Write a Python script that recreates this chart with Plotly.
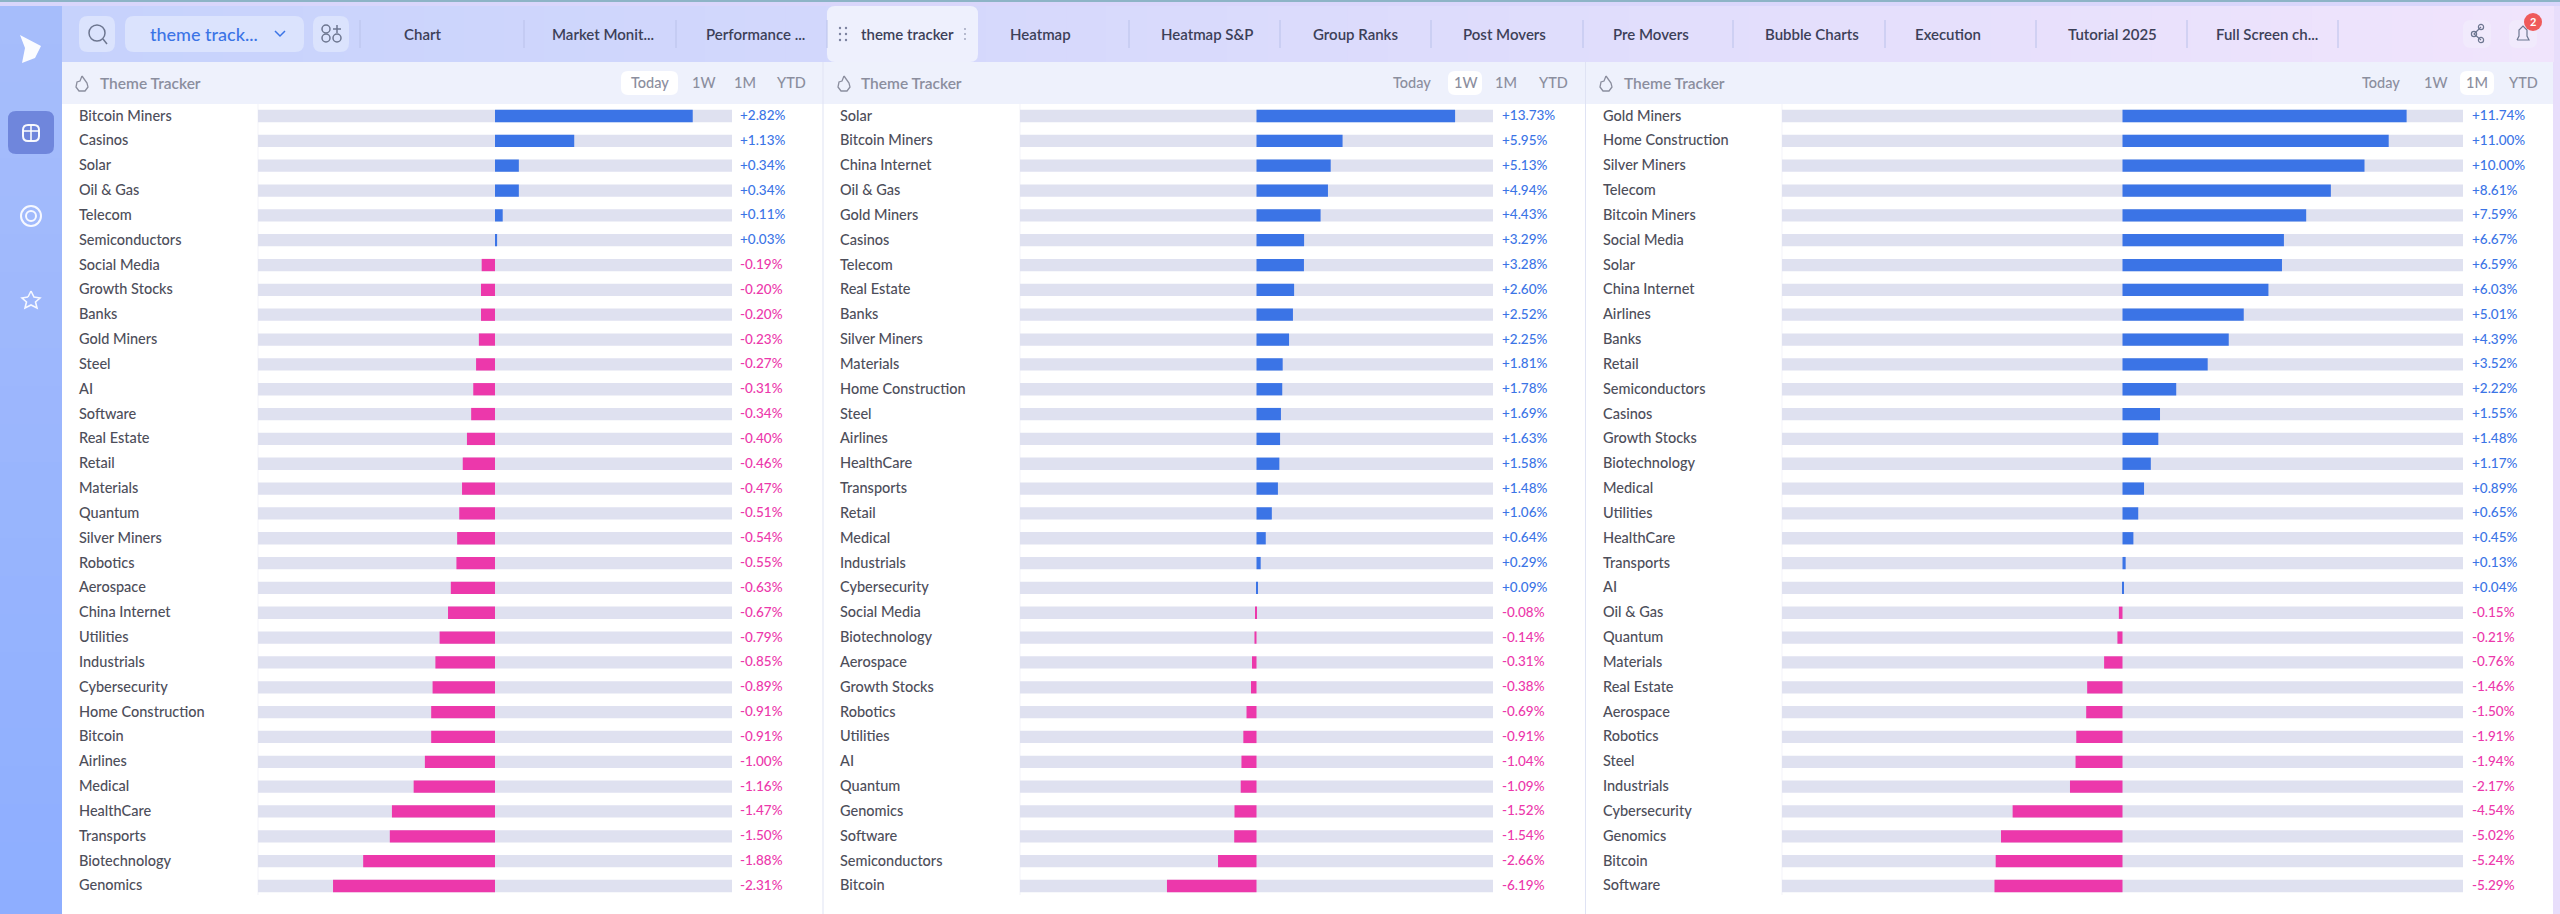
import plotly.graph_objects as go

W, H = 2560, 914
FONT = "Lato"

# Values, top to bottom for each panel
today_names = ["Bitcoin Miners", "Casinos", "Solar", "Oil & Gas", "Telecom", "Semiconductors", "Social Media",
               "Growth Stocks", "Banks", "Gold Miners", "Steel", "AI", "Software", "Real Estate", "Retail",
               "Materials", "Quantum", "Silver Miners", "Robotics", "Aerospace", "China Internet", "Utilities",
               "Industrials", "Cybersecurity", "Home Construction", "Bitcoin", "Airlines", "Medical", "HealthCare",
               "Transports", "Biotechnology", "Genomics"]
today_values = [2.82, 1.13, 0.34, 0.34, 0.11, 0.03, -0.19, -0.20, -0.20, -0.23, -0.27, -0.31, -0.34, -0.40, -0.46,
                -0.47, -0.51, -0.54, -0.55, -0.63, -0.67, -0.79, -0.85, -0.89, -0.91, -0.91, -1.00, -1.16, -1.47,
                -1.50, -1.88, -2.31]

week_names = ["Solar", "Bitcoin Miners", "China Internet", "Oil & Gas", "Gold Miners", "Casinos", "Telecom",
              "Real Estate", "Banks", "Silver Miners", "Materials", "Home Construction", "Steel", "Airlines",
              "HealthCare", "Transports", "Retail", "Medical", "Industrials", "Cybersecurity", "Social Media",
              "Biotechnology", "Aerospace", "Growth Stocks", "Robotics", "Utilities", "AI", "Quantum", "Genomics",
              "Software", "Semiconductors", "Bitcoin"]
week_values = [13.73, 5.95, 5.13, 4.94, 4.43, 3.29, 3.28, 2.60, 2.52, 2.25, 1.81, 1.78, 1.69, 1.63, 1.58, 1.48,
               1.06, 0.64, 0.29, 0.09, -0.08, -0.14, -0.31, -0.38, -0.69, -0.91, -1.04, -1.09, -1.52, -1.54,
               -2.66, -6.19]

month_names = ["Gold Miners", "Home Construction", "Silver Miners", "Telecom", "Bitcoin Miners", "Social Media",
               "Solar", "China Internet", "Airlines", "Banks", "Retail", "Semiconductors", "Casinos",
               "Growth Stocks", "Biotechnology", "Medical", "Utilities", "HealthCare", "Transports", "AI",
               "Oil & Gas", "Quantum", "Materials", "Real Estate", "Aerospace", "Robotics", "Steel", "Industrials",
               "Cybersecurity", "Genomics", "Bitcoin", "Software"]
month_values = [11.74, 11.00, 10.00, 8.61, 7.59, 6.67, 6.59, 6.03, 5.01, 4.39, 3.52, 2.22, 1.55, 1.48, 1.17, 0.89,
                0.65, 0.45, 0.13, 0.04, -0.15, -0.21, -0.76, -1.46, -1.50, -1.91, -1.94, -2.17, -4.54, -5.02,
                -5.24, -5.29]

tab_names = ["Chart", "Market Monit...", "Performance ...", "theme tracker", "Heatmap", "Heatmap S&P", "Group Ranks",
             "Post Movers", "Pre Movers", "Bubble Charts", "Execution", "Tutorial 2025", "Full Screen ch..."]
range_names = ["Today", "1W", "1M", "YTD"]

# layout of the page in pixels
tab_x = [422, 603, 755, 907, 1040, 1207, 1355, 1504, 1651, 1812, 1948, 2112, 2267]
tab_seps = [360, 524, 676, 827, 1129, 1280, 1431, 1583, 1733, 1885, 2036, 2187, 2338]
panels = [
    dict(names=today_names, values=today_values, limit=3.38, x0=258, x1=732, label_x=77, value_x=738,
         icon_x=82, title_x=98, btn_x=[650, 703, 745, 791], active=0, box=(621, 678)),
    dict(names=week_names, values=week_values, limit=16.35, x0=1020, x1=1493, label_x=838, value_x=1500,
         icon_x=844, title_x=859, btn_x=[1412, 1465, 1506, 1553], active=1, box=(1448, 1482)),
    dict(names=month_names, values=month_values, limit=14.07, x0=1782, x1=2463, label_x=1601, value_x=2470,
         icon_x=1606, title_x=1622, btn_x=[2381, 2435, 2477, 2523], active=2, box=(2460, 2494)),
]
ROW_TOP, ROW_BOTTOM = 103.6, 898.4

BLUE = "#3b74e6"
PINK = "#ec38ab"
TRACK = "#dfe1f0"
LABEL = "#4d4e5a"
MUTED = "#8b8e9e"


def px(x):
    return x / W


def py(y):
    return 1 - y / H


def rect(x0, y0, x1, y1, color, layer="below"):
    return dict(type="rect", xref="paper", yref="paper", x0=px(x0), x1=px(x1), y0=py(y0), y1=py(y1),
                fillcolor=color, line_width=0, layer=layer)


def rrect(x0, y0, x1, y1, r, color, layer="below"):
    a, b, c, d = px(x0), px(x1), py(y0), py(y1)
    rx, ry = px(r), r / H
    p = (f"M {a + rx} {c} L {b - rx} {c} Q {b} {c} {b} {c - ry} L {b} {d + ry} Q {b} {d} {b - rx} {d} "
         f"L {a + rx} {d} Q {a} {d} {a} {d + ry} L {a} {c - ry} Q {a} {c} {a + rx} {c} Z")
    return dict(type="path", xref="paper", yref="paper", path=p, fillcolor=color, line_width=0, layer=layer)


def poly(points, color, line=None, width=1.5, close=True):
    p = "M " + " L ".join(f"{px(x)} {py(y)}" for x, y in points) + (" Z" if close else "")
    return dict(type="path", xref="paper", yref="paper", path=p, fillcolor=color if close else "rgba(0,0,0,0)",
                line=dict(color=line or color, width=width if line else 0), layer="above")


def circle(cx, cy, r, fill="rgba(0,0,0,0)", line=None, width=1.5):
    return dict(type="circle", xref="paper", yref="paper", x0=px(cx - r), x1=px(cx + r), y0=py(cy - r), y1=py(cy + r),
                fillcolor=fill, line=dict(color=line or fill, width=width if line else 0), layer="above")


def text(x, y, s, size=14, color=LABEL, anchor="left", xweight=500):
    return dict(xref="paper", yref="paper", x=px(x), y=py(y), text=s, showarrow=False,
                xanchor=anchor, yanchor="middle", font=dict(family=FONT, size=size, color=color, weight=xweight))


def blend(a, b, t):
    return "rgb(" + ",".join(str(round(a[i] + (b[i] - a[i]) * t)) for i in range(3)) + ")"


shapes = []
notes = []

# page background: side bar and top bar
shapes.append(rect(0, 0, W, 2, "#8db4c6"))
shapes.append(rect(0, 2, W, 6, "#d9d6fb"))
for i in range(24):
    t = i / 23
    shapes.append(rect(0, 6 + i * 38, 62, 6 + (i + 1) * 38 + 1, blend((166, 189, 251), (142, 174, 255), t)))
shapes.append(rect(0, 0, 62, 2, "#8db4c6"))
shapes.append(rect(2553, 6, W, H, "#e8defb"))
for i in range(62):
    t = i / 61
    x0 = 62 + i * (2553 - 62) / 62
    x1 = 62 + (i + 1) * (2553 - 62) / 62 + 1
    shapes.append(rect(x0, 6, x1, 62, blend((198, 210, 252), (240, 228, 252), t)))
shapes.append(rect(62, 62, 2553, 104, "#eef1fc"))
shapes.append(rrect(827, 6, 978, 62, 8, "#eef0fd"))

# toolbar buttons
shapes.append(rrect(79, 16, 115, 52, 9, "#dbe3fd"))
shapes.append(rrect(125, 16, 304, 52, 9, "#dbe3fd"))
shapes.append(rrect(313, 16, 349, 52, 9, "#dbe3fd"))
shapes.append(rrect(2463, 20, 2491, 48, 8, "#f1eafc"))
shapes.append(rrect(2509, 20, 2537, 48, 8, "#f1eafc"))
shapes.append(circle(97, 33, 8, line="#6d7690"))
shapes.append(poly([(103, 39), (107, 44)], "#6d7690", line="#6d7690", close=False))
shapes.append(poly([(275, 31), (280, 36), (285, 31)], BLUE, line=BLUE, close=False))
for cx, cy in [(326, 29), (326, 38), (337, 38)]:
    shapes.append(circle(cx, cy, 4, line="#6d7690"))
shapes.append(poly([(337, 25), (337, 33)], "#6d7690", line="#6d7690", close=False))
shapes.append(poly([(333, 29), (341, 29)], "#6d7690", line="#6d7690", close=False))
for sx in tab_seps:
    shapes.append(rect(sx - 0.5, 20, sx + 0.5, 48, "#b9c1ea"))
for cx, cy in [(840, 28), (846, 28), (840, 34), (846, 34), (840, 40), (846, 40)]:
    shapes.append(circle(cx, cy, 1.2, fill="#7c84a0"))
for cy in [29, 34, 39]:
    shapes.append(circle(965, cy, 0.9, fill="#9aa0b8"))

# right hand icons
for cx, cy in [(2474, 34), (2481, 27), (2481, 40)]:
    shapes.append(circle(cx, cy, 2.6, line="#6d7690", width=1.2))
shapes.append(poly([(2481, 27), (2474, 34), (2481, 40)], "#6d7690", line="#6d7690", width=1.2, close=False))
shapes.append(poly([(2517, 40), (2519, 36), (2519, 30), (2523, 26), (2527, 30), (2527, 36), (2529, 40), (2517, 40)],
                   "#6d7690", line="#6d7690", width=1.2, close=False))
shapes.append(circle(2533, 22, 9, fill="#ef5a5a"))
notes.append(text(2533, 22, "2", size=11, color="white", anchor="center", xweight=700))

# side bar icons
shapes.append(poly([(20, 35), (41, 46), (35, 58), (22, 63), (25, 48)], "rgba(255,255,255,0.95)"))
shapes.append(rrect(8, 111, 54, 154, 8, "#6f86dc"))
shapes.append(rrect(22, 124, 40, 142, 6, "rgba(255,255,255,0.95)", layer="above"))
shapes.append(rrect(24, 126, 38, 140, 4, "#6f86dc", layer="above"))
shapes.append(poly([(31, 125), (31, 141)], "white", line="white", close=False))
shapes.append(poly([(23, 131), (39, 131)], "white", line="white", close=False))
shapes.append(circle(31, 216, 10, line="rgba(255,255,255,0.9)", width=2))
shapes.append(circle(31, 216, 5, line="rgba(255,255,255,0.9)", width=2))
star = [(31, 291), (34, 297), (40, 298), (35.5, 302), (37, 308), (31, 305), (25, 308), (26.5, 302), (22, 298), (28, 297)]
shapes.append(poly(star, "rgba(0,0,0,0)", line="rgba(255,255,255,0.9)", width=1.6, close=False))
shapes.append(poly([star[-1], star[0]], "rgba(0,0,0,0)", line="rgba(255,255,255,0.9)", width=1.6, close=False))

# toolbar and tab text
notes.append(text(148, 34, "theme track...", size=18, color=BLUE))
for i, name in enumerate(tab_names):
    notes.append(text(tab_x[i], 34, name, size=15, color="#3c4058", anchor="center", xweight=600))

# panel frames
shapes.append(rect(822.5, 62, 823.5, H, "#dfe3f4", layer="above"))
shapes.append(rect(1585, 62, 1586, H, "#dfe3f4", layer="above"))

fig = go.Figure()
layout_axes = {}
row_count = len(today_names)
for n, p in enumerate(panels):
    suffix = "" if n == 0 else str(n + 1)
    xa, ya = "x" + suffix, "y" + suffix
    limit = p["limit"]
    names, values = p["names"], p["values"]

    fig.add_trace(go.Bar(y=names, x=[limit * 2] * len(names), base=-limit, orientation="h", xaxis=xa, yaxis=ya,
                         marker=dict(color=TRACK, line_width=0), hoverinfo="skip", showlegend=False))
    fig.add_trace(go.Bar(y=names, x=values, orientation="h", xaxis=xa, yaxis=ya, showlegend=False,
                         marker=dict(color=[BLUE if v >= 0 else PINK for v in values], line_width=0, cornerradius=2)))

    layout_axes["xaxis" + suffix] = dict(domain=[px(p["x0"]), px(p["x1"])], range=[-limit, limit], visible=False,
                                         fixedrange=True, anchor=ya)
    layout_axes["yaxis" + suffix] = dict(domain=[py(ROW_BOTTOM), py(ROW_TOP)], range=[row_count - 0.5, -0.5],
                                         type="category", visible=False, fixedrange=True, anchor=xa)

    for name, value in zip(names, values):
        notes.append(dict(xref="paper", yref=ya, x=px(p["label_x"]), y=name, text=name, showarrow=False,
                          xanchor="left", yanchor="middle", yshift=1,
                          font=dict(family=FONT, size=14.5, color=LABEL, weight=500)))
        notes.append(dict(xref="paper", yref=ya, x=px(p["value_x"]), y=name, text=f"{value:+.2f}%", showarrow=False,
                          xanchor="left", yanchor="middle", yshift=1,
                          font=dict(family=FONT, size=13.5, color=BLUE if value >= 0 else PINK, weight=500)))

    # faint rule at the left of the tracks
    shapes.append(rect(p["x0"] - 0.5, 104, p["x0"] + 0.5, 895, "#f3f4fa"))

    # panel header
    ix = p["icon_x"]
    flame = [(ix, 76), (ix + 5, 83), (ix + 6, 87), (ix + 3, 91), (ix - 3, 91), (ix - 6, 87), (ix - 5, 82), (ix - 2, 81), (ix, 76)]
    shapes.append(poly(flame, "rgba(0,0,0,0)", line=MUTED, width=1.3, close=False))
    notes.append(text(p["title_x"], 83, "Theme Tracker", size=15.5, color=MUTED, xweight=600))
    shapes.append(rrect(p["box"][0], 71, p["box"][1], 95, 7, "white"))
    for i, name in enumerate(range_names):
        notes.append(text(p["btn_x"][i], 83, name, size=14.5, color=MUTED, anchor="center", xweight=500))

fig.update_layout(
    width=W, height=H, margin=dict(l=0, r=0, t=0, b=0, pad=0), autosize=False,
    paper_bgcolor="white", plot_bgcolor="rgba(0,0,0,0)",
    barmode="overlay", bargap=0.505, showlegend=False,
    shapes=shapes, annotations=notes, **layout_axes,
)

fig.write_html("out.html", config={"displayModeBar": False},
               post_script="document.body.style.margin='0';document.body.style.overflow='hidden';")
